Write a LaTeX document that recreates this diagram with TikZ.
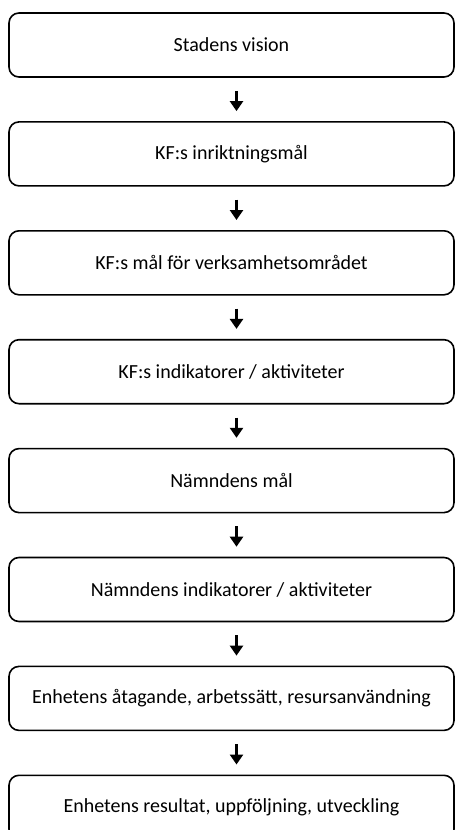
\documentclass[tikz,border=0pt]{standalone}
\usepackage{fontspec}
\setmainfont{Carlito}
\usepackage{tikz}
\usetikzlibrary{arrows.meta,positioning}
\tikzset{
  every picture/.style={
    line join=round,
    line cap=round,
  },
  % one box per level of the goal chain
  goalbox/.style={draw, line width=1.6pt, rounded corners=10pt, fill=white,
    minimum width=445pt, minimum height=64pt, inner sep=0pt,
    font=\fontsize{20}{24}\selectfont},
  flowarrow/.style={-{Triangle[width=13pt,length=10pt]}, line width=3.8pt, line cap=butt},
}

\begin{document}
\begin{tikzpicture}[node distance=43.3pt]
    % Canvas
    \clip (0,0) rectangle (456pt,-830pt);
    \fill[white] (0,0) rectangle (456pt,-830pt);
    % Boxes
    \node[goalbox] (vision) at (231.5pt,-45pt) {Stadens vision};
    \node[goalbox, below=of vision] (inrikt) {KF:s inriktningsmål};
    \node[goalbox, below=of inrikt] (kfmal) {KF:s mål för verksamhetsområdet};
    \node[goalbox, below=of kfmal] (kfind) {KF:s indikatorer / aktiviteter};
    \node[goalbox, below=of kfind] (nmal) {Nämndens mål};
    \node[goalbox, below=of nmal] (nind) {Nämndens indikatorer / aktiviteter};
    \node[goalbox, below=of nind] (atag) {Enhetens åtagande, arbetssätt, resursanvändning};
    \node[goalbox, below=of atag] (result) {Enhetens resultat, uppföljning, utveckling};
    % Arrows
    \draw[flowarrow] ([xshift=5pt,yshift=-13pt]vision.south) -- ([xshift=5pt,yshift=10pt]inrikt.north);
    \draw[flowarrow] ([xshift=5pt,yshift=-13pt]inrikt.south) -- ([xshift=5pt,yshift=10pt]kfmal.north);
    \draw[flowarrow] ([xshift=5pt,yshift=-13pt]kfmal.south) -- ([xshift=5pt,yshift=10pt]kfind.north);
    \draw[flowarrow] ([xshift=5pt,yshift=-13pt]kfind.south) -- ([xshift=5pt,yshift=10pt]nmal.north);
    \draw[flowarrow] ([xshift=5pt,yshift=-13pt]nmal.south) -- ([xshift=5pt,yshift=10pt]nind.north);
    \draw[flowarrow] ([xshift=5pt,yshift=-13pt]nind.south) -- ([xshift=5pt,yshift=10pt]atag.north);
    \draw[flowarrow] ([xshift=5pt,yshift=-13pt]atag.south) -- ([xshift=5pt,yshift=10pt]result.north);
\end{tikzpicture}
\end{document}
